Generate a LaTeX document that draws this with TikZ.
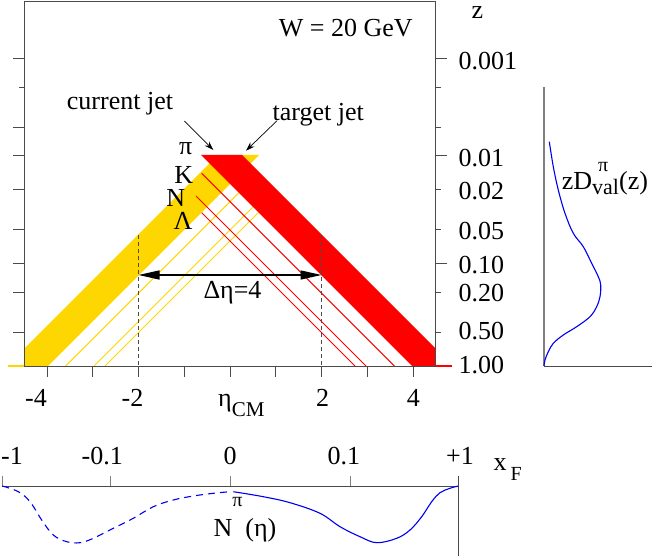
\documentclass[tikz,border=0pt]{standalone}
\usepackage{fontspec}
\setmainfont{Liberation Serif}
\usetikzlibrary{arrows.meta}
\definecolor{jetyellow}{HTML}{FFD700}
\definecolor{jetred}{HTML}{FF0000}
\definecolor{axisgray}{HTML}{4A4A4A}
\definecolor{tickgray}{HTML}{808080}
\definecolor{curveblue}{HTML}{0000F0}
\begin{document}
\begin{tikzpicture}[x=1pt,y=-1pt,
  lbl/.style={font=\fontsize{26}{30}\selectfont, inner sep=0pt, anchor=base},
  lblw/.style={lbl, anchor=base west},
  axisline/.style={draw=axisgray, line width=0.9pt},
  tickline/.style={draw=axisgray, line width=0.9pt},
  thinyellow/.style={draw=jetyellow, line width=1pt},
  thinred/.style={draw=jetred, line width=1pt},
  guide/.style={draw=axisgray, line width=0.8pt, dash pattern=on 4pt off 3pt},
  ptr/.style={draw=black, line width=0.7pt, -{Stealth[length=9pt,width=6pt]}},
  span/.style={draw=black, line width=1.3pt, {Triangle[length=21pt,width=9pt]}-{Triangle[length=21pt,width=9pt]}},
  curve/.style={draw=curveblue, line width=1.1pt}
]
\useasboundingbox (0,0) rectangle (654,556);

% ---------- bands ----------
\fill[jetyellow] (218,155) -- (259,155) -- (48,366) -- (24.3,366) -- (24.3,348.7) -- cycle;
\draw[thinyellow] (238.8,192.8) -- (65.6,366);
\draw[thinyellow] (253,207) -- (94,366);
\draw[thinyellow] (258.5,212.5) -- (105,366);
\fill[jetred] (201,155) -- (242,155) -- (435.5,348.5) -- (435.5,366) -- (412,366) -- cycle;
\draw[thinred] (201.7,173.3) -- (394.4,366);
\draw[thinred] (196,196) -- (366,366);
\draw[thinred] (201.7,212.7) -- (355,366);
\draw[jetyellow, line width=1.5pt] (8,366) -- (24.3,366);
\draw[jetred, line width=1.5pt] (435.5,366) -- (452,366);

% ---------- frame and ticks ----------
\draw[axisline] (24.3,1.7) rectangle (435.5,366);
\foreach \y in {58.3,127,155,189.3,229.3,263.3,292.3,332.3}
  \draw[tickline] (13.3,\y) -- (24.3,\y);
\draw[tickline] (19.3,87.3) -- (24.3,87.3);
\foreach \y in {58.3,155,263.3}
  \draw[tickline] (435.5,\y) -- (446.5,\y);
\foreach \y in {87.3,127,189.3,229.3,292.3,332.3}
  \draw[tickline] (435.5,\y) -- (440.7,\y);
\foreach \e in {-4,...,4}
  \draw[tickline] ({230+45.75*\e},366) -- ++(0,11);

% ---------- z axis labels ----------
\node[lbl, text height=10pt] (zax) at (477.5,18.6) {z};
\node[lblw] (z1) at (458.3,70) {0.001};
\node[lblw] (z2) at (458.3,166.7) {0.01};
\node[lblw] (z3) at (458.3,200) {0.02};
\node[lblw] (z4) at (458.3,240) {0.05};
\node[lblw] (z5) at (458.3,273.3) {0.10};
\node[lblw] (z6) at (458.3,301.7) {0.20};
\node[lblw] (z7) at (458.3,340) {0.50};
\node[lblw] (z8) at (458.3,373.3) {1.00};

% ---------- eta axis labels ----------
\node[lbl] (em4) at (36,406.7) {-4};
\node[lbl] (em2) at (132.5,406.7) {-2};
\node[lbl] (ep2) at (322.7,406.7) {2};
\node[lbl] (ep4) at (413.3,406.7) {4};
\node[lblw] (etacm) at (218,406.7) {η\raisebox{-10pt}{\fontsize{21}{21}\selectfont CM}};

% ---------- labels in the frame ----------
\node[lbl] (wlab) at (345.8,36.7) {W = 20 GeV};
\node[lbl] (cjet) at (120,109.3) {current jet};
\node[lbl] (tjet) at (318.2,120.7) {target jet};
\node[lbl] (pilab) at (185.8,155) {π};
\node[lbl] (klab) at (183.8,183.3) {K};
\node[lbl] (nlab) at (175.8,206.7) {N};
\node[lbl] (llab) at (183,229.3) {Λ};
\coordinate (cjs) at (184.3,121);
\coordinate (cjt) at (213.3,150);
\coordinate (tjs) at (276.7,121);
\coordinate (tjt) at (246,150.7);
\draw[ptr] (cjs) -- (cjt);
\draw[ptr] (tjs) -- (tjt);

% ---------- delta eta ----------
\coordinate (gl) at (138.5,235);
\coordinate (glb) at (138.5,366);
\coordinate (gr) at (321.5,235);
\coordinate (grb) at (321.5,366);
\draw[guide] (gl) -- (glb);
\draw[guide] (gr) -- (grb);
\coordinate (al) at (138.5,275);
\coordinate (ar) at (321.5,275);
\draw[span] (al) -- (ar);
\node[lbl] (deta) at (232.5,298.3) {Δη=4};

% ---------- right panel ----------
\draw[draw=tickgray, line width=1.4pt] (544,87.3) -- (544,366);
\draw[axisline] (544,366) -- (652,366);
\draw[curve] plot[smooth, tension=0.6] coordinates {(549.3,141.7) (553.3,166.7) (558.3,190) (565,213.3) (573.3,233.3) (583.3,246.7) (591.7,263.3) (598.3,276.7) (600.7,285) (600,296.7) (596.7,306.7) (590,316.7) (576.7,326.7) (563.3,335) (553.3,343.3) (548.3,351.7) (545,360) (544,366)};
\node[lblw] (zdlab) at (561.7,190) {zD\rlap{\raisebox{18.3pt}{\hspace{6pt}\fontsize{20}{20}\selectfont π}}\raisebox{-5pt}{\fontsize{22}{22}\selectfont val}(z)};

% ---------- bottom panel ----------
\draw[axisline] (2.3,486) -- (458.3,486);
\foreach \x in {2.3,110,230,350}
  \draw[draw=tickgray, line width=0.9pt] (\x,476) -- (\x,486);
\draw[axisline] (458.3,476) -- (458.3,556);
\node[lbl] (xm1) at (12,464) {-1};
\node[lbl] (xm01) at (102.2,464) {-0.1};
\node[lbl] (x0) at (230,464) {0};
\node[lbl] (xp01) at (343.8,464) {0.1};
\node[lbl] (xp1) at (460,464) {+1};
\node[lblw] (xflab) at (493.3,470) {x\hspace{4pt}\raisebox{-10pt}{\fontsize{20}{20}\selectfont F}};
\draw[curve, dash pattern=on 7pt off 5pt] plot[smooth, tension=0.6] coordinates {(2.3,486) (18.3,491.7) (30,501.7) (41.7,520) (53.3,535) (66.7,541.7) (80,542.7) (93.3,538.3) (113.3,528.3) (133.3,518.3) (153.3,506.7) (173.3,500) (193.3,496) (213.3,493.3) (230,491.7)};
\draw[curve] plot[smooth, tension=0.6] coordinates {(233.3,491.7) (263.3,496.7) (290,502.7) (320,513.3) (340,526.7) (360,536.7) (376.7,542.7) (396.7,538.3) (410,530) (421.7,516.7) (431.7,501.7) (440,492.7) (450,488.3) (458.3,486)};
\node[lblw] (nlabel) at (213.3,536.7) {N\raisebox{30pt}{\fontsize{20}{20}\selectfont π}\hspace{3pt}(η)};
\end{tikzpicture}
\end{document}
